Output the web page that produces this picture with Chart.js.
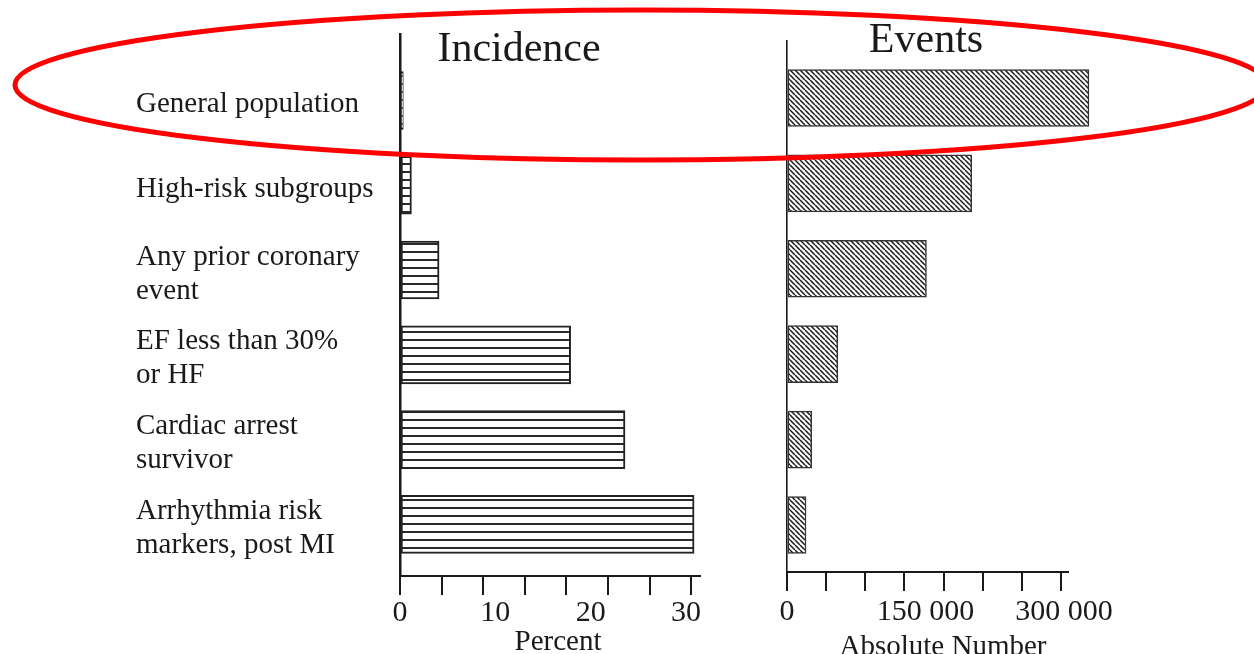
<!DOCTYPE html>
<html><head><meta charset="utf-8">
<script src="https://cdn.jsdelivr.net/npm/chart.js@4.4.1/dist/chart.umd.min.js"></script>
<style>
html,body{margin:0;padding:0;background:#fff;}
#wrap{position:relative;width:1254px;height:654px;overflow:hidden;background:#fff;}
#wrap canvas{position:absolute;left:0;top:0;}
</style></head><body>
<div id="wrap"><canvas id="inc" width="1254" height="654"></canvas><canvas id="evt" width="1254" height="654"></canvas></div>
<script>
// ---- data ----
const categories = [
  ['General population'],
  ['High-risk subgroups'],
  ['Any prior coronary', 'event'],
  ['EF less than 30%', 'or HF'],
  ['Cardiac arrest', 'survivor'],
  ['Arrhythmia risk', 'markers, post MI']
];
const incidencePercent = [0.35, 1.2, 4.1, 17.9, 23.6, 30.85];
const eventsAbsolute = [327000, 200000, 151000, 55000, 26700, 20600];
const incidenceTickValues = [0, 10, 20, 30];
const incidenceTickLabels = ['0', '10', '20', '30'];
const eventsTickValues = [0, 150000, 300000];
const eventsTickLabels = ['0', '150 000', '300 000'];

// ---- styling ----
const SERIF = '"Liberation Serif","DejaVu Serif","Times New Roman",serif';
const INK = '#1a1a1a';

function stripePattern() {
  const c = document.createElement('canvas'); c.width = 8; c.height = 8;
  const g = c.getContext('2d');
  g.fillStyle = '#fff'; g.fillRect(0, 0, 8, 8);
  g.fillStyle = '#2a2a2a'; g.fillRect(0, 3, 8, 2);
  return g.createPattern(c, 'repeat');
}
function hatchPattern() {
  const s = 5;
  const c = document.createElement('canvas'); c.width = s; c.height = s;
  const g = c.getContext('2d');
  g.fillStyle = '#fff'; g.fillRect(0, 0, s, s);
  g.strokeStyle = '#1a1a1a'; g.lineWidth = 1.5;
  g.beginPath();
  [-s, 0, s].forEach(o => { g.moveTo(o, 0); g.lineTo(o + s, s); });
  g.stroke();
  return g.createPattern(c, 'repeat');
}

function buildTicks(markStep, markCount, labelValues, labelTexts) {
  const map = new Map();
  for (let k = 0; k <= markCount; k++) {
    const v = +(k * markStep).toFixed(6);
    map.set(v, {value: v, mark: true, text: ''});
  }
  labelValues.forEach((v, i) => {
    const t = map.get(v) || {value: v, mark: false, text: ''};
    t.text = labelTexts[i];
    map.set(v, t);
  });
  return [...map.values()].sort((a, b) => a.value - b.value);
}

const captionPlugin = {
  id: 'captions',
  afterDraw(chart, args, opts) {
    const ctx = chart.ctx;
    (opts.items || []).forEach(it => {
      ctx.save();
      ctx.font = it.font;
      ctx.fillStyle = INK;
      ctx.textAlign = 'center';
      ctx.textBaseline = 'alphabetic';
      ctx.fillText(it.text, it.x, it.y);
      ctx.restore();
    });
  }
};
const ellipsePlugin = {
  id: 'markEllipse',
  afterDraw(chart, args, opts) {
    if (!opts.show) return;
    const ctx = chart.ctx;
    ctx.save();
    ctx.beginPath();
    ctx.ellipse(opts.cx, opts.cy, opts.rx, opts.ry, 0, 0, Math.PI * 2);
    ctx.strokeStyle = '#ff0000';
    ctx.lineWidth = 5;
    ctx.stroke();
    ctx.restore();
  }
};

function valueAxis(max, markStep, markCount, tickValues, tickLabels, height, pad) {
  return {
    type: 'linear', position: 'bottom', min: 0, max: max, offset: false,
    afterBuildTicks: s => { s.ticks = buildTicks(markStep, markCount, tickValues, tickLabels); },
    afterFit: s => { s.height = height; },
    grid: {
      display: true, offset: false, drawOnChartArea: false, drawTicks: true, tickLength: 19, lineWidth: 2,
      color: c => (c.tick && c.tick.mark) ? INK : 'rgba(0,0,0,0)'
    },
    border: {display: true, color: INK, width: 2},
    ticks: {
      autoSkip: false, maxRotation: 0, minRotation: 0, padding: pad, color: INK,
      font: {family: SERIF, size: 30, lineHeight: 1.2},
      callback: (v, i, ticks) => ticks[i].text
    },
    title: {display: false}
  };
}

function categoryAxis(min, max, width, showLabels, borderWidth) {
  return {
    type: 'linear', position: 'left', reverse: true, min: min, max: max, offset: false,
    afterBuildTicks: s => { s.ticks = categories.map((_, i) => ({value: i})); },
    afterFit: s => { s.width = width; },
    grid: {display: true, offset: false, drawOnChartArea: false, drawTicks: false},
    border: {display: true, color: INK, width: borderWidth},
    ticks: {
      display: showLabels, crossAlign: 'far', padding: 0, color: INK, autoSkip: false,
      labelOffset: 4,
      font: {family: SERIF, size: 29, lineHeight: 1.17},
      callback: v => categories[v]
    }
  };
}

const common = {
  responsive: false, devicePixelRatio: 1, animation: false, indexAxis: 'y',
  events: []
};

new Chart(document.getElementById('inc'), {
  type: 'bar',
  data: {
    datasets: [{
      data: incidencePercent.map((v, i) => ({x: v, y: i})),
      backgroundColor: stripePattern(),
      borderColor: '#222', borderWidth: 2, borderSkipped: false,
      barThickness: 58
    }]
  },
  plugins: [captionPlugin],
  options: Object.assign({}, common, {
    layout: {padding: {left: 136, right: 554, top: 30, bottom: 0}},
    scales: {
      x: valueAxis(31.47, 4.365, 7, incidenceTickValues, incidenceTickLabels, 78, 0),
      y: categoryAxis(-0.785, 5.609, 264, true, 2.5)
    },
    plugins: {
      legend: {display: false}, tooltip: {enabled: false}, title: {display: false},
      captions: {items: [
        {text: 'Incidence', x: 519, y: 61, font: '42px ' + SERIF},
        {text: 'Percent', x: 558, y: 650, font: '29px ' + SERIF}
      ]}
    }
  })
});

new Chart(document.getElementById('evt'), {
  type: 'bar',
  data: {
    datasets: [{
      data: eventsAbsolute.map((v, i) => ({x: v, y: i})),
      backgroundColor: hatchPattern(),
      borderColor: '#333', borderWidth: 1.5, borderSkipped: false,
      barThickness: 57, clip: false
    }]
  },
  plugins: [captionPlugin, ellipsePlugin],
  options: Object.assign({}, common, {
    layout: {padding: {left: 787, right: 186, top: 41, bottom: 0}},
    scales: {
      x: valueAxis(304300, 42400, 7, eventsTickValues, eventsTickLabels, 82, 3),
      y: categoryAxis(-0.667, 5.55, 0, false, 1.6)
    },
    plugins: {
      legend: {display: false}, tooltip: {enabled: false}, title: {display: false},
      captions: {items: [
        {text: 'Events', x: 926, y: 52, font: '42px ' + SERIF},
        {text: 'Absolute Number', x: 943, y: 655, font: '29px ' + SERIF}
      ]},
      markEllipse: {show: true, cx: 641, cy: 85, rx: 626, ry: 75}
    }
  })
});
</script>
</body></html>
